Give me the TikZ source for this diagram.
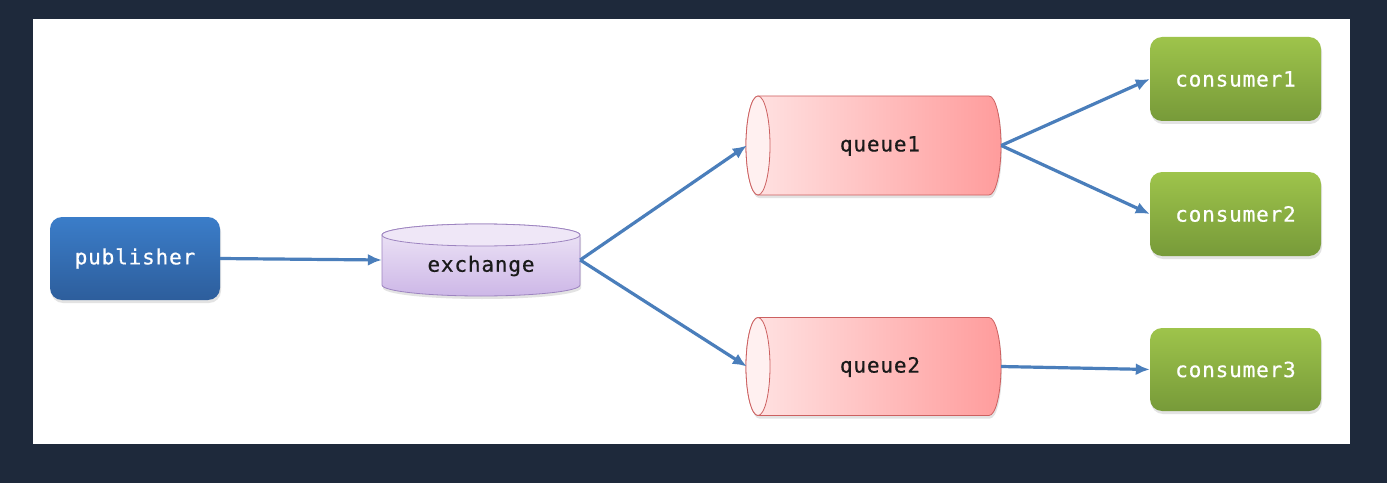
\documentclass[tikz,border=0pt]{standalone}
\usepackage{fontspec}
\newfontfamily\monof[LetterSpace=4,FakeBold=0.6]{DejaVu Sans Mono}
\usetikzlibrary{shadows,arrows.meta}
\pgfdeclarelayer{canvas}
\pgfdeclarelayer{background}
\pgfsetlayers{canvas,background,main}
\definecolor{bgdark}{HTML}{1E293B}
\definecolor{arrowblue}{HTML}{4A7EBB}
\definecolor{pubtop}{HTML}{3B7DC9}
\definecolor{pubbot}{HTML}{2D5E9C}
\definecolor{contop}{HTML}{9EC44B}
\definecolor{conbot}{HTML}{779A39}
\definecolor{extop}{HTML}{EFE7F7}
\definecolor{exbot}{HTML}{CDB7E7}
\definecolor{exline}{HTML}{9D84C0}
\definecolor{qleft}{HTML}{FFE4E4}
\definecolor{qright}{HTML}{FF9C9C}
\definecolor{qline}{HTML}{CC6060}
\definecolor{qend}{HTML}{FFF0F0}
\definecolor{txtdark}{HTML}{1A1A1A}
\tikzset{
  x=1pt, y=1pt,
  softshadow/.style={drop shadow={opacity=0.22, shadow xshift=1pt, shadow yshift=-3pt}},
  box/.style={rectangle, rounded corners=12pt, text=white, font=\monof\fontsize{21}{24}\selectfont, softshadow},
  pubbox/.style={box, top color=pubtop, bottom color=pubbot, minimum width=170pt, minimum height=83pt},
  conbox/.style={box, top color=contop, bottom color=conbot, minimum width=171pt, minimum height=84pt},
  holder/.style={rectangle, inner sep=0pt, text=txtdark, font=\monof\fontsize{21}{24}\selectfont},
  conn/.style={draw=arrowblue, line width=3.2pt, -{Latex[length=14pt,width=12pt]}},
}
\begin{document}
\begin{tikzpicture}
\useasboundingbox (0,0) rectangle (1387,483);
\begin{pgfonlayer}{canvas}
\fill[bgdark] (0,0) rectangle (1387,483);
\fill[white] (33,39) rectangle (1350,464);
\end{pgfonlayer}

% nodes
\node[pubbox] (pub) at (135,224.5) {publisher};
\node[holder, minimum width=198pt, minimum height=72pt] (ex) at (481,223) {};
\node[holder] at (481,217) {exchange};
\node[holder, minimum width=254pt, minimum height=99pt] (q1) at (874,337.5) {};
\node[holder] at (880,337) {queue1};
\node[holder, minimum width=254pt, minimum height=98pt] (q2) at (874,116.5) {};
\node[holder] at (880,116) {queue2};
\node[conbox] (c1) at (1235.5,404) {consumer1};
\node[conbox] (c2) at (1235.5,269) {consumer2};
\node[conbox, minimum height=83pt] (c3) at (1235.5,113.5) {consumer3};

\begin{pgfonlayer}{background}
% exchange cylinder
\path[draw=exline, line width=0.8pt, top color=extop, bottom color=exbot, softshadow]
  (382,248) -- (382,198) arc[start angle=180, end angle=360, x radius=99, y radius=11]
  -- (580,248) arc[start angle=0, end angle=180, x radius=99, y radius=11] -- cycle;
\path[draw=exline, line width=0.8pt, fill=extop] (481,248) ellipse[x radius=99, y radius=11];
% queue cylinders
\foreach \cy/\ry in {337.5/49.5, 116.5/49} {
  \path[draw=qline, line width=0.8pt, left color=qleft, right color=qright, softshadow]
    (758,\cy+\ry) -- (989,\cy+\ry) arc[start angle=90, end angle=-90, x radius=12, y radius=\ry]
    -- (758,\cy-\ry) arc[start angle=270, end angle=90, x radius=12, y radius=\ry] -- cycle;
  \path[draw=qline, line width=0.8pt, fill=qend] (758,\cy) ellipse[x radius=12, y radius=\ry];
}
\end{pgfonlayer}

% connectors
\draw[conn] (pub.east) -- (ex.west);
\draw[conn] (ex.east) -- (q1.west);
\draw[conn] (ex.east) -- (q2.west);
\draw[conn] (q1.east) -- (c1.west);
\draw[conn] (q1.east) -- (c2.west);
\draw[conn] (q2.east) -- (c3.west);
\end{tikzpicture}
\end{document}
